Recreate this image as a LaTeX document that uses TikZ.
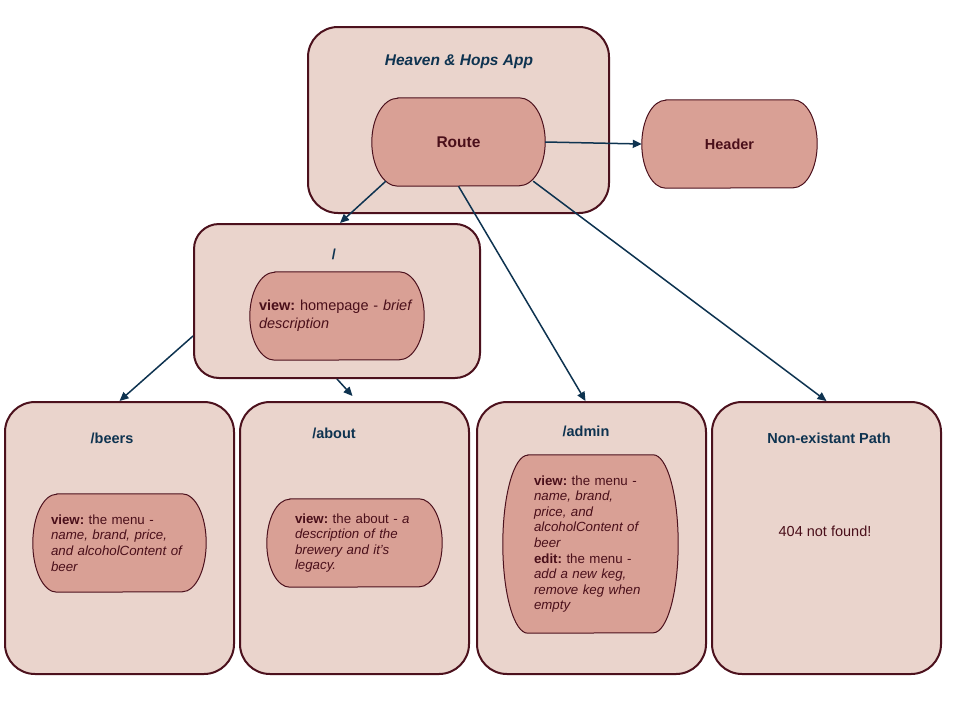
\documentclass[tikz,border=0pt]{standalone}
\usepackage{fontspec}
\setmainfont{Liberation Sans}
\usetikzlibrary{arrows.meta}
\definecolor{boxfill}{HTML}{EAD4CC}
\definecolor{pillfill}{HTML}{D9A095}
\definecolor{edge}{HTML}{4C111D}
\definecolor{navy}{HTML}{0E3350}
\definecolor{ink}{HTML}{4A0F1A}
% terminator outline round a named frame node: #1 frame, #2 end bulge, #3 half height
\newcommand\terminatoroutline[3]{%
  \draw[pillline] ([xshift=#2]#1.north west) -- ([xshift=-#2]#1.north east)
    arc[start angle=90,end angle=-90,x radius=#2,y radius=#3]
    -- ([xshift=#2]#1.south west)
    arc[start angle=270,end angle=90,x radius=#2,y radius=#3] -- cycle;}
\begin{document}
\frenchspacing
\begin{tikzpicture}[x=1pt,y=-1pt,
  panel/.style={rectangle,draw=edge,line width=2pt,fill=boxfill,rounded corners=30pt,inner sep=0pt},
  frame/.style={rectangle,draw=none,inner sep=0pt},
  pillline/.style={draw=edge,line width=1pt,fill=pillfill},
  title/.style={text=navy,font=\fontsize{14.5}{17}\selectfont\bfseries,inner sep=0pt},
  body/.style={text=ink,align=left,inner sep=0pt,font=\fontsize{13.3}{15.6}\selectfont},
  conn/.style={draw=navy,line width=1.5pt,-{Triangle[length=9pt,width=8pt]}}]
\useasboundingbox[fill=white] (0,0) rectangle (960,720);

% top level: the app with its router
\node[panel,minimum width=301pt,minimum height=186pt] (app) at (458.5,120) {};
\node[title,font=\fontsize{15.5}{18}\selectfont\bfseries\itshape] (apptitle) at (459,62) {Heaven \& Hops App};
\node[frame,minimum width=173pt,minimum height=88pt] (route) at (458.5,142) {};
\terminatoroutline{route}{26pt}{44pt}
\node[body,font=\fontsize{15.5}{18}\selectfont\bfseries] (routetext) at (route.center) {Route};
\node[frame,minimum width=175pt,minimum height=88pt] (header) at (729.5,144) {};
\terminatoroutline{header}{24pt}{44pt}
\node[body,font=\fontsize{14.5}{17}\selectfont\bfseries] (headertext) at (header.center) {Header};

% home page
\node[panel,rounded corners=25pt,minimum width=286pt,minimum height=154pt] (slash) at (337,301) {};
\node[title] (slashtitle) at (334,254) {/};
\node[frame,minimum width=174pt,minimum height=88pt] (slashview) at (337,316) {};
\terminatoroutline{slashview}{25pt}{44pt}
\node[body,font=\fontsize{14.5}{18}\selectfont,text width=156pt] (slashtext) at (slashview.center)
  {\textbf{view:} homepage - \textit{brief}\\\textit{description}};

% child routes
\node[panel,minimum width=229pt,minimum height=272pt] (beers) at (119.5,538) {};
\node[title] (beerstitle) at (112,438) {/beers};
\node[frame,minimum width=173pt,minimum height=98pt] (beersview) at (119.5,543) {};
\terminatoroutline{beersview}{24pt}{49pt}
\node[body,text width=137pt] (beerstext) at (beersview.center)
  {\textbf{view:} the menu -\\\textit{name, brand, price,}\\\textit{and alcoholContent of}\\\textit{beer}};

\node[panel,minimum width=229pt,minimum height=272pt] (about) at (354.5,538) {};
\node[title] (abouttitle) at (334,433) {/about};
\node[frame,minimum width=175pt,minimum height=88pt] (aboutview) at (354.5,543) {};
\terminatoroutline{aboutview}{23pt}{44pt}
\node[body,text width=119pt] (abouttext) at (aboutview.center)
  {\textbf{view:} the about - \textit{a}\\\textit{description of the}\\\textit{brewery and it’s}\\\textit{legacy.}};

\node[panel,minimum width=229pt,minimum height=272pt] (admin) at (591.5,538) {};
\node[title] (admintitle) at (586,431) {/admin};
\node[frame,minimum width=175pt,minimum height=178pt] (adminview) at (590.5,544) {};
\terminatoroutline{adminview}{25pt}{89pt}
\node[body,text width=113pt] (admintext) at (adminview.center)
  {\textbf{view:} the menu -\\\textit{name, brand,}\\\textit{price, and}\\\textit{alcoholContent of}\\\textit{beer}\\
   \textbf{edit:} the menu -\\\textit{add a new keg,}\\\textit{remove keg when}\\\textit{empty}};

\node[panel,minimum width=229pt,minimum height=272pt] (nonex) at (826.5,538) {};
\node[title] (nonextitle) at (829,438) {Non-existant Path};
\node[body,font=\fontsize{14.5}{17}\selectfont] (notfound) at (825,531) {404 not found!};

% connectors
\draw[conn] (route.east) -- (header.west);
\draw[conn] ([xshift=14pt,yshift=5pt]route.south west) -- ([xshift=3pt]slash.north);
\draw[conn] (route.south) -- ([xshift=-6pt]admin.north);
\draw[conn] ([xshift=-12pt,yshift=5pt]route.south east) -- (nonex.north);
\draw[conn] ([yshift=-35pt]slash.west) -- (beers.north);
\draw[conn] (slash.south) -- ([xshift=-2pt,yshift=5pt]about.north);
\end{tikzpicture}
\end{document}
